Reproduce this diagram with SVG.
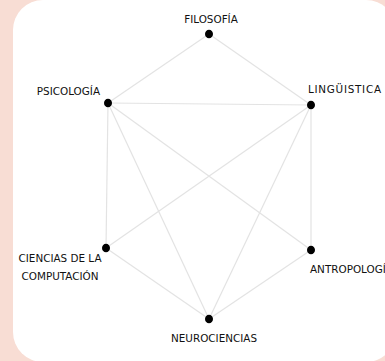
<svg xmlns="http://www.w3.org/2000/svg" width="385" height="361" viewBox="0 0 385 361">
<style>
.lbl{font-family:"DejaVu Sans","Liberation Sans",sans-serif;font-size:10.4px;fill:#111}
.edge{stroke:#e3e3e3;stroke-width:1.2;fill:none}
.dot{fill:#000}
</style>
<rect x="0" y="0" width="385" height="361" fill="#f8ddd4"/>
<rect x="13" y="0" width="383" height="362" rx="30" ry="30" fill="#ffffff"/>
<g id="connectors">
<line class="edge" x1="209" y1="34" x2="108" y2="103"/>
<line class="edge" x1="209" y1="34" x2="311" y2="105"/>
<line class="edge" x1="108" y1="103" x2="311" y2="105"/>
<line class="edge" x1="108" y1="103" x2="106" y2="248"/>
<line class="edge" x1="108" y1="103" x2="209" y2="319"/>
<line class="edge" x1="108" y1="103" x2="311" y2="250"/>
<line class="edge" x1="311" y1="105" x2="106" y2="248"/>
<line class="edge" x1="311" y1="105" x2="209" y2="319"/>
<line class="edge" x1="311" y1="105" x2="311" y2="250"/>
<line class="edge" x1="106" y1="248" x2="209" y2="319"/>
<line class="edge" x1="311" y1="250" x2="209" y2="319"/>
</g>
<g id="filosofia">
<ellipse class="dot" cx="209" cy="34" rx="4" ry="4.3"/>
<text class="lbl" x="211" y="23" text-anchor="middle">FILOSOFÍA</text>
</g>
<g id="psicologia">
<ellipse class="dot" cx="108" cy="103" rx="4" ry="4.3"/>
<text class="lbl" x="100" y="95" text-anchor="end">PSICOLOGÍA</text>
</g>
<g id="linguistica">
<ellipse class="dot" cx="311" cy="105" rx="4" ry="4.3"/>
<text class="lbl" x="308" y="93" textLength="73" lengthAdjust="spacing">LINGÜISTICA</text>
</g>
<g id="ciencias">
<ellipse class="dot" cx="106" cy="248" rx="4" ry="4.3"/>
<text class="lbl" x="60" y="262" text-anchor="middle">CIENCIAS DE LA</text>
<text class="lbl" x="60" y="280" text-anchor="middle">COMPUTACIÓN</text>
</g>
<g id="antropologia">
<ellipse class="dot" cx="311" cy="250" rx="4" ry="4.3"/>
<text class="lbl" x="310" y="273">ANTROPOLOGÍ</text>
</g>
<g id="neurociencias">
<ellipse class="dot" cx="209" cy="319" rx="4" ry="4.3"/>
<text class="lbl" x="214" y="342" text-anchor="middle">NEUROCIENCIAS</text>
</g>
</svg>
